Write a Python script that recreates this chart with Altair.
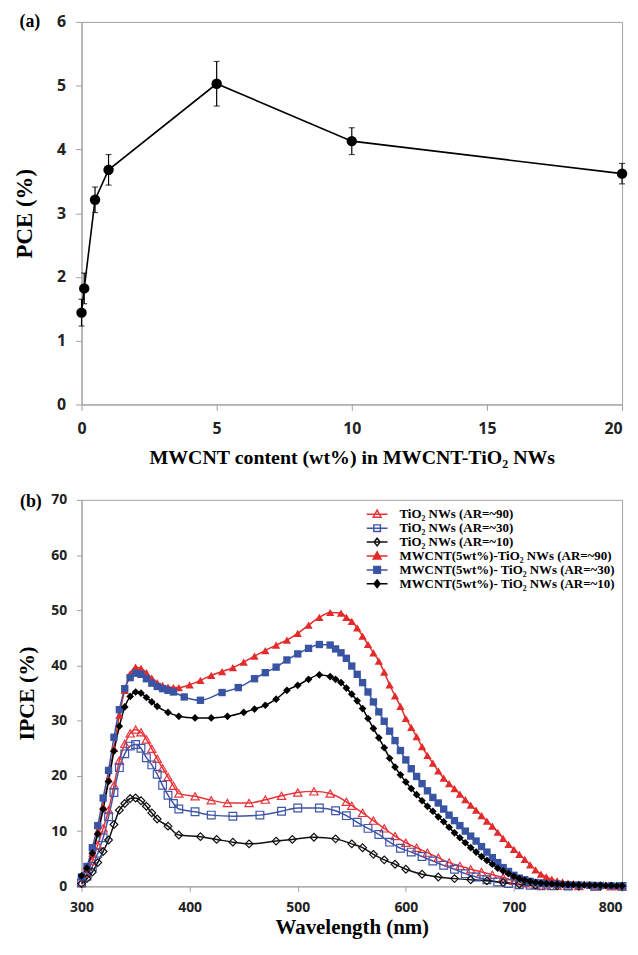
import altair as alt
import pandas as pd

# ---------------- Panel (a) data ----------------
mw_content = [0, 0.1, 0.5, 1, 5, 10, 20]
pce = [1.44, 1.82, 3.21, 3.68, 5.03, 4.13, 3.62]
pce_err = [0.21, 0.24, 0.20, 0.24, 0.35, 0.21, 0.16]

# ---------------- Panel (b) data ----------------
names = [
    "TiO₂ NWs (AR=~90)",
    "TiO₂ NWs (AR=~30)",
    "TiO₂ NWs (AR=~10)",
    "MWCNT(5wt%)-TiO₂ NWs (AR=~90)",
    "MWCNT(5wt%)- TiO₂ NWs (AR=~30)",
    "MWCNT(5wt%)- TiO₂ NWs (AR=~10)",
]

tio2_90_wl = [300, 305, 310, 315, 320, 325, 330, 335, 340, 345, 350, 355, 360, 365, 370, 375, 380, 385, 390,
              405, 420, 435, 455, 470, 485, 500, 515, 530, 545, 550, 560, 570, 580, 590, 600, 610, 620, 630,
              640, 650, 660, 670, 680, 690, 700, 710, 720, 730, 740, 750, 760, 775, 790, 800]
tio2_90_v = [0.7, 2.3, 4.6, 7.5, 10.5, 13.8, 18.3, 22.8, 25.8, 27.7, 28.4, 27.9, 26.6, 24.9, 23.1, 21.4, 19.8, 18.2, 16.8,
             16.3, 15.6, 15.1, 15.1, 15.7, 16.4, 17.0, 17.2, 16.8, 15.3, 14.6, 13.3, 11.9, 10.5, 9.1, 7.9, 7.0, 6.1, 5.2,
             4.3, 3.7, 3.1, 2.6, 2.1, 1.6, 1.0, 0.6, 0.3, 0.2, 0.1, 0.1, 0.05, 0.0, 0.0, 0.0]

tio2_30_wl = [300, 305, 310, 315, 320, 325, 330, 335, 340, 345, 350, 355, 360, 365, 370, 375, 380, 385, 390,
              405, 420, 440, 465, 485, 500, 520, 535, 545, 555, 565, 575, 585, 595, 605, 615, 625, 635, 645,
              655, 665, 675, 685, 695, 705, 715, 725, 735, 750, 775, 800]
tio2_30_v = [0.6, 1.8, 3.6, 6.0, 8.8, 12.6, 17.0, 21.5, 24.0, 25.4, 25.7, 25.0, 23.3, 22.0, 20.3, 18.3, 16.5, 15.0, 14.0,
             13.5, 12.9, 12.7, 12.9, 13.6, 14.2, 14.2, 13.7, 12.8, 11.6, 10.5, 9.4, 8.0, 6.9, 6.2, 5.4, 4.6, 3.8, 3.1,
             2.3, 1.7, 1.2, 0.8, 0.5, 0.3, 0.2, 0.1, 0.1, 0.05, 0.0, 0.0]

tio2_10_wl = [300, 305, 310, 315, 320, 325, 330, 335, 340, 345, 350, 355, 360, 365, 370, 380, 390,
              410, 425, 440, 455, 480, 495, 515, 535, 550, 560, 570, 580, 590, 600, 615, 630, 645, 660,
              675, 690, 705, 720, 740, 760, 780, 800]
tio2_10_v = [0.5, 1.4, 2.6, 4.3, 6.3, 8.4, 11.2, 13.8, 15.0, 15.9, 16.0, 15.5, 14.5, 13.3, 12.2, 10.9, 9.3,
             9.0, 8.5, 8.0, 7.7, 8.2, 8.5, 8.9, 8.6, 7.7, 7.0, 5.8, 4.8, 4.0, 3.1, 2.2, 1.7, 1.4, 1.2,
             1.0, 0.7, 0.4, 0.2, 0.1, 0.05, 0.0, 0.0]

mw_90_wl = [300, 305, 310, 315, 320, 325, 330, 335, 340, 345, 350, 355, 360, 365, 370, 375, 380, 385, 390,
            400, 410, 420, 430, 440, 450, 460, 470, 480, 490, 500, 510, 520, 530, 540,
            545, 550, 555, 560, 565, 570, 575, 580, 585, 590, 595, 600, 605, 610, 615, 620, 625, 630, 635,
            640, 645, 650, 655, 660, 665, 670, 675, 680, 685, 690, 695, 700, 705, 710, 715, 720, 725, 730,
            735, 740, 745, 750, 755, 760, 765, 770, 775, 780, 785, 790, 795, 800]
mw_90_v = [2.0, 3.5, 6.0, 10.0, 14.5, 19.5, 25.0, 31.0, 35.5, 38.5, 39.7, 39.5, 38.7, 37.7, 36.9, 36.4, 36.1, 36.0, 36.0,
           36.5, 37.3, 38.2, 38.9, 39.6, 40.6, 41.7, 42.7, 43.7, 44.6, 45.8, 47.3, 48.7, 49.6, 49.5,
           48.7, 48.0, 46.8, 45.3, 43.8, 42.3, 40.8, 38.8, 36.5, 34.5, 32.6, 30.4, 28.8, 27.1, 25.3, 23.7, 22.3, 20.9, 19.6,
           18.6, 17.7, 16.7, 15.7, 14.7, 13.8, 12.8, 11.8, 10.9, 9.8, 8.7, 7.6, 6.7, 5.8, 4.9, 3.9, 3.0, 2.2, 1.7,
           1.3, 1.0, 0.8, 0.6, 0.5, 0.4, 0.35, 0.3, 0.25, 0.2, 0.2, 0.15, 0.1, 0.1]

mw_30_wl = [300, 305, 310, 315, 320, 325, 330, 335, 340, 345, 350, 355, 360, 365, 370, 375, 380, 385,
            395, 410, 430, 445, 460, 470, 480, 490, 500, 510, 520, 530,
            535, 540, 545, 550, 555, 560, 565, 570, 575, 580, 585, 590, 595, 600, 605, 610, 615, 620, 625,
            630, 635, 640, 645, 650, 655, 660, 665, 670, 675, 680, 685, 690, 695, 700, 705, 710, 715, 720,
            725, 730, 740, 750, 760, 770, 780, 790, 800]
mw_30_v = [1.7, 3.6, 7.0, 11.0, 16.0, 21.0, 27.0, 32.0, 35.8, 37.8, 38.6, 38.4, 37.6, 36.8, 36.2, 35.8, 35.5, 35.2,
           34.3, 33.7, 35.1, 36.0, 37.6, 38.7, 39.7, 41.0, 42.1, 43.1, 43.8, 43.7,
           43.0, 42.3, 41.3, 39.9, 38.4, 36.9, 35.2, 33.4, 31.6, 29.9, 28.1, 26.4, 24.6, 22.9, 21.3, 19.9, 18.6, 17.3, 16.1,
           15.1, 14.0, 12.9, 11.9, 11.0, 10.0, 9.1, 8.2, 7.2, 6.2, 5.2, 4.3, 3.4, 2.7, 2.0, 1.5, 1.2, 0.9, 0.7,
           0.6, 0.5, 0.4, 0.3, 0.25, 0.2, 0.15, 0.1, 0.1]

mw_10_wl = [300, 305, 310, 315, 320, 325, 330, 335, 340, 345, 350, 355, 360, 365, 370, 380, 390,
            405, 420, 435, 450, 460, 470, 480, 490, 500, 510, 520, 530,
            535, 540, 545, 550, 555, 560, 565, 570, 575, 580, 585, 590, 595, 600, 605, 610, 615, 620, 625,
            630, 635, 640, 645, 650, 655, 660, 665, 670, 675, 680, 685, 690, 695, 700, 705, 710, 715, 720,
            725, 730, 735, 740, 745, 750, 755, 760, 765, 770, 775, 780, 785, 790, 795, 800]
mw_10_v = [1.9, 3.3, 6.0, 9.5, 14.0, 19.0, 24.5, 29.0, 32.5, 34.4, 35.2, 35.0, 34.2, 33.4, 32.6, 31.5, 30.8,
           30.5, 30.5, 30.8, 31.5, 32.1, 32.8, 33.9, 35.5, 36.4, 37.5, 38.3, 38.0,
           37.5, 36.9, 35.9, 34.8, 33.6, 32.2, 30.4, 28.6, 26.9, 25.1, 23.2, 21.6, 20.2, 18.9, 17.7, 16.6, 15.5, 14.5, 13.6,
           12.6, 11.7, 10.7, 9.7, 8.8, 7.9, 7.0, 6.2, 5.4, 4.7, 4.0, 3.3, 2.8, 2.3, 1.8, 1.4, 1.1, 0.9, 0.7,
           0.6, 0.5, 0.45, 0.4, 0.35, 0.3, 0.3, 0.25, 0.25, 0.2, 0.2, 0.2, 0.15, 0.15, 0.1, 0.1]

series_wl = [tio2_90_wl, tio2_30_wl, tio2_10_wl, mw_90_wl, mw_30_wl, mw_10_wl]
series_v = [tio2_90_v, tio2_30_v, tio2_10_v, mw_90_v, mw_30_v, mw_10_v]

line_colors = ["#e8343a", "#3f55a8", "#111111", "#e32b2b", "#3a54a4", "#000000"]
marker_shapes = ["triangle-up", "square", "diamond", "triangle-up", "square", "diamond"]
marker_filled = [False, False, False, True, True, True]
marker_sizes = [70, 60, 60, 70, 55, 60]

legend_paths = [
    "M-1.9,0H1.9M0,-0.75L0.72,0.55L-0.72,0.55Z",
    "M-1.9,0H1.9M-0.6,-0.6H0.6V0.6H-0.6Z",
    "M-1.9,0H1.9M0,-0.7L0.55,0L0,0.7L-0.55,0Z",
    "M-1.9,0H1.9M0,-0.75L0.72,0.55L-0.72,0.55Z",
    "M-1.9,0H1.9M-0.6,-0.6H0.6V0.6H-0.6Z",
    "M-1.9,0H1.9M0,-0.7L0.55,0L0,0.7L-0.55,0Z",
]
legend_fills = ["white", "white", "white", "#e32b2b", "#3a54a4", "#000000"]

SERIF = "Liberation Serif"
SANS = "Noto Sans"
GRAY = "#a0a0a0"

# ---------------- Panel (a) chart ----------------
dfa = pd.DataFrame({
    "x": mw_content,
    "y": pce,
    "lo": [p - e for p, e in zip(pce, pce_err)],
    "hi": [p + e for p, e in zip(pce, pce_err)],
})

xa = alt.X("x:Q", scale=alt.Scale(domain=[0, 20], nice=False),
           axis=alt.Axis(values=[0, 5, 10, 15, 20], format="d", title="MWCNT content (wt%) in MWCNT-TiO₂ NWs",
                         labelFlush=False,
                         labelAlign={"condition": {"test": "datum.value == 20", "value": "right"}, "value": "center"},
                         labelFontSize=16, titleFontSize=20, labelPadding=10,
                         titlePadding=11, tickSize=6))
ya = alt.Y("y:Q", scale=alt.Scale(domain=[0, 6], nice=False),
           axis=alt.Axis(values=[0, 1, 2, 3, 4, 5, 6], format="d", title="PCE (%)",
                         labelFontSize=16, titleFontSize=23, labelPadding=10, titlePadding=20, tickSize=6))

base_a = alt.Chart(dfa)
line_a = base_a.mark_line(color="black", strokeWidth=1.6).encode(x=xa, y=ya)
rule_a = base_a.mark_rule(color="black", strokeWidth=1.2).encode(x="x:Q", y="lo:Q", y2="hi:Q")
cap_lo = base_a.mark_tick(orient="horizontal", color="black", size=6, thickness=1.2).encode(x="x:Q", y="lo:Q")
cap_hi = base_a.mark_tick(orient="horizontal", color="black", size=6, thickness=1.2).encode(x="x:Q", y="hi:Q")
pts_a = base_a.mark_point(filled=True, color="black", size=110, opacity=1).encode(x="x:Q", y="y:Q")
lab_a = alt.Chart(pd.DataFrame({"t": ["(a)"]})).mark_text(
    font=SERIF, fontWeight="bold", fontSize=18, align="center", baseline="middle", color="black"
).encode(x=alt.value(-52), y=alt.value(0), text="t:N")

chart_a = alt.layer(line_a, rule_a, cap_lo, cap_hi, pts_a, lab_a).properties(width=544, height=385)

# ---------------- Panel (b) chart ----------------
rows = []
for n, wls, vs in zip(names, series_wl, series_v):
    for w, v in zip(wls, vs):
        rows.append({"series": n, "wl": w, "v": v})
dfb = pd.DataFrame(rows)

xb = alt.X("wl:Q", scale=alt.Scale(domain=[300, 800], nice=False),
           axis=alt.Axis(values=[300, 400, 500, 600, 700, 800], format="d", title="Wavelength (nm)",
                         labelFlush=False,
                         labelAlign={"condition": {"test": "datum.value == 800", "value": "right"}, "value": "center"},
                         labelFontSize=14, titleFontSize=21, labelPadding=9,
                         titlePadding=2, tickSize=5))
yb = alt.Y("v:Q", scale=alt.Scale(domain=[0, 70], nice=False),
           axis=alt.Axis(values=[0, 10, 20, 30, 40, 50, 60, 70], format="d", title="IPCE (%)",
                         labelFontSize=14, titleFontSize=22, labelPadding=10, titlePadding=12, tickSize=5))

layers_b = []
for i, n in enumerate(names):
    sub = alt.Chart(dfb).transform_filter(alt.datum.series == n)
    layers_b.append(sub.mark_line(color=line_colors[i], strokeWidth=1.5, interpolate="monotone").encode(x=xb, y=yb))
for i, n in enumerate(names):
    sub = alt.Chart(dfb).transform_filter(alt.datum.series == n)
    if marker_filled[i]:
        m = sub.mark_point(shape=marker_shapes[i], filled=True, color=line_colors[i],
                           size=marker_sizes[i], opacity=1)
    else:
        m = sub.mark_point(shape=marker_shapes[i], filled=False, color=line_colors[i],
                           size=marker_sizes[i], opacity=1, strokeWidth=1.2)
    layers_b.append(m.encode(x=xb, y=yb))

leg = alt.Legend(title=None, orient="none", legendX=291, legendY=8, padding=0,
                 labelFont=SERIF, labelFontWeight="bold", labelFontSize=13, labelColor="black",
                 symbolSize=121, symbolStrokeWidth=1.5, labelOffset=16, rowPadding=-1.8,
                 labelLimit=400)
legend_df = pd.DataFrame({"series": names})
legend_layer = alt.Chart(legend_df).transform_filter("false").mark_point(opacity=1, strokeWidth=1.5).encode(
    shape=alt.Shape("series:N", scale=alt.Scale(domain=names, range=legend_paths), legend=leg),
    fill=alt.Fill("series:N", scale=alt.Scale(domain=names, range=legend_fills), legend=leg),
    stroke=alt.Stroke("series:N", scale=alt.Scale(domain=names, range=line_colors), legend=leg),
)
lab_b = alt.Chart(pd.DataFrame({"t": ["(b)"]})).mark_text(
    font=SERIF, fontWeight="bold", fontSize=18, align="center", baseline="middle", color="black"
).encode(x=alt.value(-51), y=alt.value(2), text="t:N")

chart_b = alt.layer(*layers_b, legend_layer, lab_b).properties(width=544, height=389)

chart = alt.vconcat(chart_a, chart_b, spacing=24).resolve_legend(
    shape="independent", fill="independent", stroke="independent"
).resolve_scale(
    shape="independent", fill="independent", stroke="independent"
).properties(
    padding={"left": 5, "top": 1, "right": 0, "bottom": 0}
).configure_view(stroke=GRAY, strokeWidth=1).configure_axis(
    grid=False, domainColor=GRAY, tickColor=GRAY, domainWidth=1, tickWidth=1,
    labelFont=SANS, labelFontWeight="bold", labelColor="#222222",
    titleFont=SERIF, titleFontWeight="bold", titleColor="black",
)

chart.save("out.html", embed_options={"renderer": "svg", "actions": False})
